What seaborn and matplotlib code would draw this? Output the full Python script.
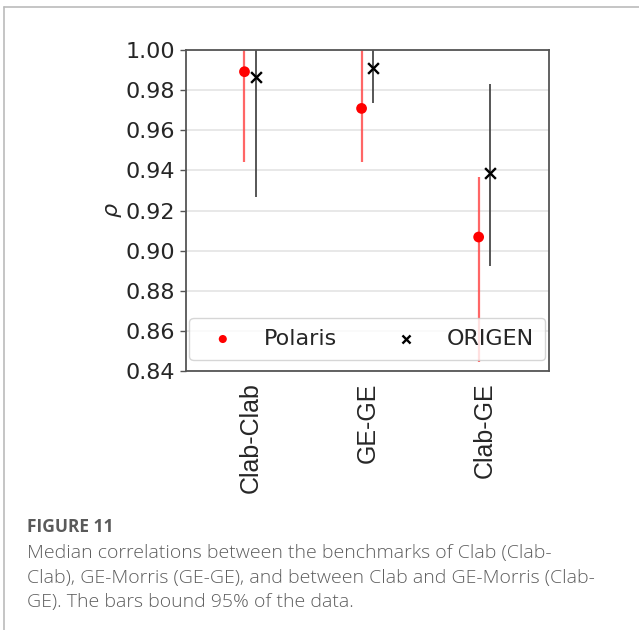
import matplotlib
matplotlib.use("Agg")
import matplotlib.pyplot as plt
import seaborn as sns
import numpy as np

categories = ["Clab-Clab", "GE-GE", "Clab-GE"]
polaris_median = [0.9892, 0.9709, 0.9068]
polaris_low = [0.9443, 0.9440, 0.8446]
polaris_high = [1.0, 1.0, 0.9368]
origen_median = [0.9867, 0.9909, 0.9388]
origen_low = [0.9269, 0.9734, 0.8925]
origen_high = [1.0, 1.0, 0.9829]
yticks = [0.84, 0.86, 0.88, 0.90, 0.92, 0.94, 0.96, 0.98, 1.00]

sns.set_style("white")
plt.rcParams["font.family"] = ["DejaVu Sans"]

fig = plt.figure(figsize=(6.39, 6.30), dpi=100)
ax = fig.add_axes([0.291, 0.411, 0.568, 0.5096])

pos = np.arange(len(categories))
off = 0.05

ax.vlines(pos - off, polaris_low, polaris_high, color="#ff5555", lw=1.6, alpha=0.9, zorder=2)
ax.vlines(pos + off, origen_low, origen_high, color="#444444", lw=1.4, alpha=0.9, zorder=2)
sns.scatterplot(x=pos - off, y=polaris_median, color="red", marker="o", s=60,
                edgecolor="none", ax=ax, zorder=3, label="Polaris")
sns.scatterplot(x=pos + off, y=origen_median, color="black", marker="x", s=60,
                linewidth=1.7, ax=ax, zorder=3, label="ORIGEN")

ax.set_xlim(-0.55, 2.55)
ax.set_ylim(0.84, 1.00)
ax.set_yticks(yticks)
ax.set_yticklabels([f"{v:.2f}" for v in yticks], fontsize=16)
ax.set_xticks(pos)
ax.set_xticklabels(categories, rotation=90, fontsize=18, family="Liberation Sans")
ax.set_ylabel(r"$\rho$", fontsize=16, labelpad=1)
ax.set_xlabel("")
ax.yaxis.grid(True, color="#e4e4e4", lw=1.2)
ax.xaxis.grid(False)
ax.set_axisbelow(True)
ax.tick_params(axis="both", which="both", length=4, width=1, color="#555555",
               left=True, bottom=False, pad=4)
for s in ax.spines.values():
    s.set_color("#555555")
    s.set_linewidth(1.3)

leg = ax.legend(loc="lower center", ncol=2, fontsize=16, columnspacing=2.1,
                handletextpad=0.85, borderaxespad=0.5, frameon=True, framealpha=0.8,
                borderpad=0.5, handlelength=2.0, markerscale=0.75)
leg.get_frame().set_edgecolor("#cccccc")

# page border lines
fig.add_artist(plt.Line2D([4/639, 1.0], [1 - 7/630, 1 - 7/630], color="#bbbbbb", lw=1.2))
fig.add_artist(plt.Line2D([4/639, 4/639], [0, 1 - 7/630], color="#bbbbbb", lw=1.2))

cap_color = "#5e5e5e"
fig.text(27/639, 1 - 527/630, "FIGURE 11", fontsize=12.5, fontweight="bold",
         color="#5a5a5a", family="Open Sans", va="center")
lines = ["Median correlations between the benchmarks of Clab (Clab-",
         "Clab), GE-Morris (GE-GE), and between Clab and GE-Morris (Clab-",
         "GE). The bars bound 95% of the data."]
for i, t in enumerate(lines):
    fig.text(27/639, 1 - (553 + 24.5 * i)/630, t, fontsize=14, color=cap_color,
             family="Open Sans", fontweight="light", va="center")

fig.savefig("out.png", dpi=100)
